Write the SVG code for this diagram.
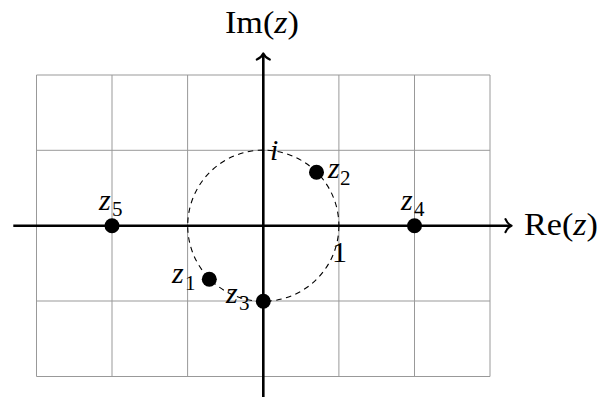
<svg xmlns="http://www.w3.org/2000/svg" width="599" height="398" viewBox="0 0 599 398">
<style>
.grid{stroke:#999;stroke-width:1;fill:none}
.axis{stroke:#000;stroke-width:2.6;fill:none}
.tip{stroke:#000;stroke-width:2.2;fill:none;stroke-linecap:round;stroke-linejoin:round}
.circ{stroke:#000;stroke-width:1.1;fill:none;stroke-dasharray:5.5 4.5}
.dot{fill:#000}
.t{font-family:"Liberation Serif","Times New Roman",serif;fill:#000}
.it{font-style:italic}
.big{font-size:31px}
.z{font-size:30px}
.sub{font-size:21px}
</style>
<rect width="599" height="398" fill="#fff"/>
<g id="grid">
<path class="grid" d="M36.5 75H490M36.5 150.3H490M36.5 301H490M36.5 376.5H490M36.5 75V376.5M112 75V376.5M187.6 75V376.5M338.9 75V376.5M414.5 75V376.5M490 75V376.5"/>
</g>
<g id="unit-circle">
<circle class="circ" cx="263.3" cy="225.7" r="75.6"/>
</g>
<g id="connectors">
<path class="axis" d="M13.3 225.7H510.5"/>
<path class="tip" d="M505.5 219.2Q507.5 224 511.5 225.7Q507.5 227.4 505.5 232.2"/>
<path class="axis" d="M263.3 397V54.5"/>
<path class="tip" d="M256.8 59.5Q261.6 57.5 263.3 53.5Q265 57.5 269.8 59.5"/>
</g>
<g id="label-im"><text class="t big" x="225" y="33" textLength="74" lengthAdjust="spacingAndGlyphs">Im(<tspan class="it">z</tspan>)</text></g>
<g id="label-re"><text class="t big" x="524" y="235" textLength="74" lengthAdjust="spacingAndGlyphs">Re(<tspan class="it">z</tspan>)</text></g>
<g id="label-i"><text class="t z it" x="270" y="160">i</text></g>
<g id="label-1"><text class="t z" x="332" y="262">1</text></g>
<g id="z1"><circle class="dot" cx="209.3" cy="279.3" r="7.5"/><text class="t z it" x="172" y="283">z</text><text class="t sub" x="185" y="290">1</text></g>
<g id="z2"><circle class="dot" cx="316.5" cy="172.2" r="7.5"/><text class="t z it" x="328" y="178">z</text><text class="t sub" x="340" y="185">2</text></g>
<g id="z3"><circle class="dot" cx="263.3" cy="301.3" r="7.5"/><text class="t z it" x="226" y="303">z</text><text class="t sub" x="239" y="310">3</text></g>
<g id="z4"><circle class="dot" cx="414.5" cy="225.7" r="7.5"/><text class="t z it" x="401" y="210">z</text><text class="t sub" x="414" y="216">4</text></g>
<g id="z5"><circle class="dot" cx="112" cy="225.7" r="7.5"/><text class="t z it" x="99" y="210">z</text><text class="t sub" x="112" y="216">5</text></g>
</svg>
